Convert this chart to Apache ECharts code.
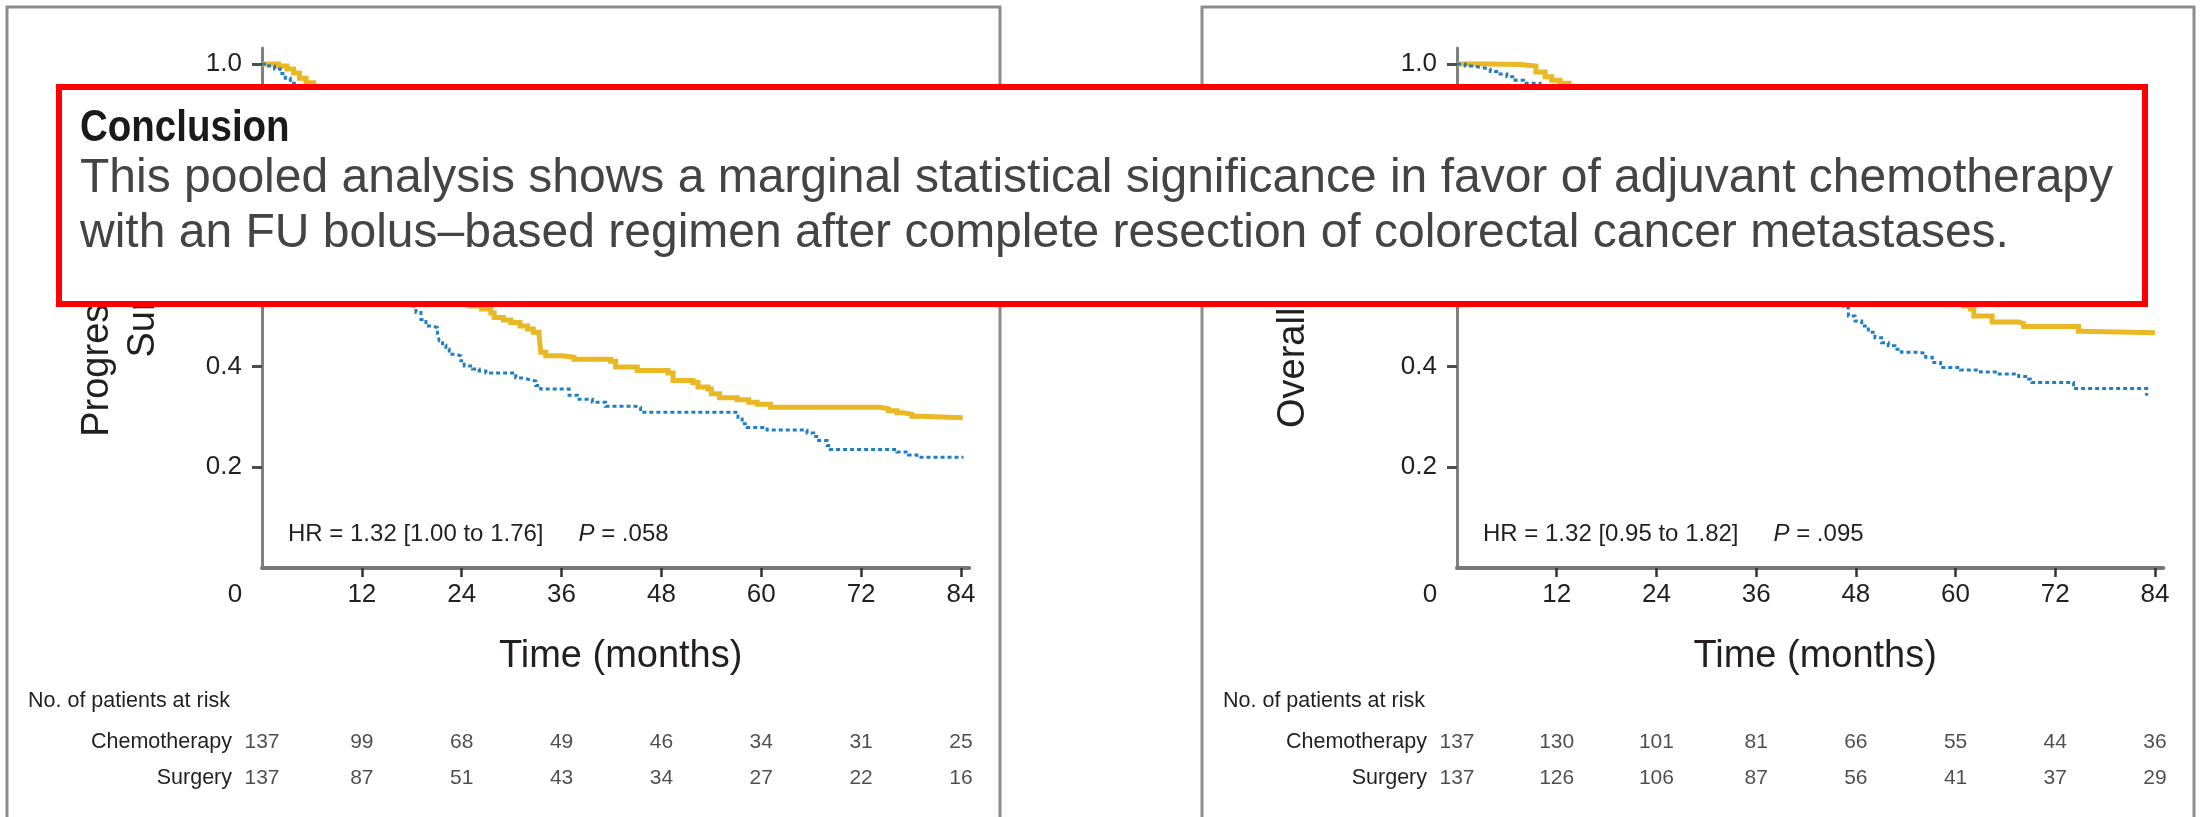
<!DOCTYPE html>
<html><head><meta charset="utf-8">
<script src="https://cdn.jsdelivr.net/npm/echarts@6/dist/echarts.min.js"></script>
<style>html,body{margin:0;padding:0;background:#fff}#c{width:2201px;height:817px}</style>
</head><body><div id="c"></div>
<script>
// ---------- data ----------
const tickMonths = [0, 12, 24, 36, 48, 60, 72, 84];
const yTicks = [0.2, 0.4, 0.6, 0.8, 1.0];
const riskGroups = ['Chemotherapy', 'Surgery'];

// Progression-free survival (left panel), [month, probability]
const pfsChemo = [[0,1.0],[2.0,0.996],[3.0,0.99],[3.8,0.982],[4.5,0.972],[5.3,0.963],
  [6.2,0.945],[7.0,0.925],[8.0,0.9],[9.0,0.87],[10.0,0.84],[11.0,0.81],[12.0,0.78],[13.0,0.75],[14.0,0.72],
  [15.0,0.695],[16.0,0.67],[17.0,0.65],[18.0,0.625],[19.0,0.605],[20.0,0.585],[21.0,0.57],[22.0,0.555],
  [23.0,0.54],[24.0,0.53],[25.0,0.52],[26.4,0.514],[27.5,0.506],[27.9,0.497],[29.0,0.492],[29.9,0.487],
  [31.0,0.48],[31.9,0.474],[32.6,0.468],[33.3,0.462],[33.5,0.428],[34.1,0.421],[36.0,0.418],[37.5,0.414],
  [41.9,0.41],[42.5,0.399],[45.1,0.392],[48.8,0.387],[49.4,0.372],[51.8,0.368],[52.4,0.359],[53.6,0.355],
  [54.0,0.346],[55.0,0.338],[57.1,0.334],[58.5,0.329],[59.5,0.325],[61.1,0.319],[74.3,0.316],[75.3,0.312],
  [76.3,0.308],[77.1,0.305],[78.1,0.301],[79.1,0.298],[84.2,0.298]];
const pfsSurgery = [[0,1.0],[0.8,0.996],[1.5,0.99],[2.2,0.981],[2.8,0.972],[3.4,0.962],
  [4.2,0.945],[5.0,0.925],[6.0,0.9],[7.0,0.87],[8.0,0.835],[9.0,0.8],[10.0,0.765],[11.0,0.73],[12.0,0.695],
  [13.0,0.665],[14.0,0.635],[15.0,0.605],[16.0,0.575],[17.0,0.548],[17.6,0.528],[17.9,0.52],[18.5,0.507],
  [19.1,0.493],[19.7,0.48],[20.5,0.477],[21.1,0.464],[21.3,0.451],[21.7,0.442],[22.1,0.434],[22.5,0.424],
  [23.3,0.421],[23.9,0.411],[24.3,0.401],[25.3,0.395],[26.1,0.391],[26.9,0.387],[30.5,0.377],[31.3,0.374],
  [32.1,0.371],[32.9,0.362],[33.5,0.355],[36.9,0.343],[37.9,0.335],[39.7,0.329],[41.3,0.321],[44.9,0.319],
  [45.5,0.309],[57.2,0.299],[57.7,0.286],[58.3,0.279],[60.7,0.274],[65.5,0.268],[66.3,0.261],[66.9,0.253],
  [67.9,0.243],[68.3,0.235],[76.3,0.23],[77.7,0.224],[78.7,0.22],[84.3,0.22]];

// Overall survival (right panel)
const osChemo = [[0,1.0],[4.0,0.999],[7.6,0.996],[9.5,0.984],[10.6,0.975],[11.4,0.968],[12.4,0.962],
  [13.5,0.95],[15,0.935],[17,0.915],[19,0.89],[21,0.86],[23,0.83],[25,0.8],[27,0.77],[29,0.745],[31,0.72],
  [33,0.7],[35,0.68],[37,0.66],[39,0.645],[41,0.63],[43,0.615],[45,0.6],[47,0.59],[49,0.58],[51,0.57],
  [53,0.56],[55,0.55],[57,0.54],[59,0.53],[61,0.52],[61.8,0.514],[62.2,0.5],[64.4,0.488],[67.6,0.485],
  [68.2,0.479],[74.8,0.47],[75.2,0.467],[84.0,0.467]];
const osSurgery = [[0,1.0],[1,0.996],[2,0.993],[3,0.99],[4,0.985],[5,0.98],[6,0.975],[7,0.968],[8,0.962],
  [10,0.945],[12,0.92],[14,0.895],[16,0.87],[18,0.845],[20,0.82],[22,0.8],[24,0.78],[26,0.76],[28,0.74],
  [30,0.72],[32,0.7],[34,0.68],[36,0.66],[38,0.64],[40,0.615],[42,0.59],[44,0.565],[45.5,0.54],[46.5,0.517],
  [47.1,0.5],[47.9,0.49],[48.7,0.48],[49.5,0.468],[50.3,0.457],[51.1,0.447],[51.9,0.441],[52.7,0.434],
  [53.5,0.428],[55.5,0.426],[56.4,0.418],[57.2,0.408],[58.2,0.398],[60.6,0.393],[63.0,0.389],[65.0,0.385],
  [67.6,0.38],[68.8,0.375],[69.2,0.368],[74.2,0.356],[83.0,0.342]];

// numbers at risk
const pfsRiskChemo = [137, 99, 68, 49, 46, 34, 31, 25];
const pfsRiskSurgery = [137, 87, 51, 43, 34, 27, 22, 16];
const osRiskChemo = [137, 130, 101, 81, 66, 55, 44, 36];
const osRiskSurgery = [137, 126, 106, 87, 56, 41, 37, 29];

// texts
const pfsTitle = 'Progression-Free\nSurvival';
const osTitle = 'Overall Survival';
const pfsHR = 'HR = 1.32 [1.00 to 1.76]', pfsP = '= .058';
const osHR = 'HR = 1.32 [0.95 to 1.82]', osP = '= .095';
const xTitle = 'Time (months)';
const riskTitle = 'No. of patients at risk';
const conclusionHead = 'Conclusion';
const conclusionBody = 'This pooled analysis shows a marginal statistical significance in favor of adjuvant chemotherapy\nwith an FU bolus\u2013based regimen after complete resection of colorectal cancer metastases.';

// ---------- styles ----------
const FONT = '"Liberation Sans", Arial, sans-serif';
const INK = '#231f20';
const GOLD = '#e9b824';
const BLUE = '#1f7fc4';

const panels = [
  {left: 262, width: 707.3},
  {left: 1457, width: 706.3}
];

const grids = [];
const xAxes = [];
const yAxes = [];
panels.forEach((p, i) => {
  grids.push({left: p.left, top: 47.9, width: p.width, height: 520.1, containLabel: false, outerBoundsMode: 'none'});
  xAxes.push({
    type: 'value', gridIndex: i, min: 0, max: 85,
    axisLine: {show: true, onZero: false, lineStyle: {color: '#777', width: 4}},
    axisTick: {show: true, customValues: tickMonths.slice(1), length: 9, lineStyle: {color: '#333', width: 2.5}},
    axisLabel: {show: true, customValues: tickMonths, margin: 14, fontSize: 26, fontFamily: FONT, color: INK,
      formatter: v => v === 0 ? '{o|0}' : String(v),
      rich: {o: {padding: [0, 54, 0, 0], fontSize: 26, fontFamily: FONT, color: INK}}},
    splitLine: {show: false},
    name: xTitle, nameLocation: 'middle', nameGap: 70,
    nameTextStyle: {fontSize: 38, fontFamily: FONT, color: INK, padding: [0, 0, 0, 10]}
  });
  yAxes.push({
    type: 'value', gridIndex: i, min: 0, max: 1.032,
    axisLine: {show: true, onZero: false, lineStyle: {color: '#808080', width: 3}},
    axisTick: {show: true, customValues: yTicks, length: 10, lineStyle: {color: '#4d4d4d', width: 3}},
    axisLabel: {show: true, customValues: yTicks, formatter: v => v.toFixed(1), margin: 20,
      fontSize: 26, fontFamily: FONT, color: INK},
    splitLine: {show: false}
  });
});
// risk-table grids share the time scale of the panels above
panels.forEach((p, i) => {
  grids.push({left: p.left, top: 724.5, width: p.width, height: 71, containLabel: false, outerBoundsMode: 'none'});
  xAxes.push({type: 'value', gridIndex: 2 + i, min: 0, max: 85, show: false});
  yAxes.push({type: 'category', gridIndex: 2 + i, data: riskGroups, inverse: true,
    axisLine: {show: false}, axisTick: {show: false}, splitLine: {show: false},
    axisLabel: {margin: 30, fontSize: 21.5, fontFamily: FONT, color: INK}});
});

function km(gi, data, color, width, type, z) {
  return {type: 'line', xAxisIndex: gi, yAxisIndex: gi, data, step: 'end', showSymbol: false, symbol: 'none',
    silent: true, animation: false, z,
    lineStyle: {color, width, type, cap: 'butt', join: 'miter'}};
}
function risk(gi, chemo, surg) {
  const data = [];
  tickMonths.forEach((m, k) => {
    data.push([m, riskGroups[0], chemo[k]]);
    data.push([m, riskGroups[1], surg[k]]);
  });
  return {type: 'scatter', xAxisIndex: gi, yAxisIndex: gi, symbolSize: 0, data, silent: true, animation: false,
    encode: {x: 0, y: 1},
    label: {show: true, position: 'inside', formatter: p => String(p.value[2]),
      fontSize: 21, fontFamily: FONT, color: INK}};
}

function hrText(x, hr, p) {
  return {type: 'text', x, y: 534, silent: true,
    style: {text: '{n|' + hr + '}{i|P}{n| ' + p + '}', verticalAlign: 'middle', align: 'left',
      rich: {n: {fontSize: 24, fontFamily: FONT, fill: INK, color: INK},
             i: {fontSize: 24, fontFamily: FONT, fontStyle: 'italic', fill: INK, color: INK, padding: [0, 0, 0, 35]}}}};
}

const graphics = [
  {type: 'rect', shape: {x: 7, y: 7, width: 993, height: 900}, style: {fill: 'none', stroke: '#8c8c8c', lineWidth: 3}, silent: true},
  {type: 'rect', shape: {x: 1202, y: 7, width: 992, height: 900}, style: {fill: 'none', stroke: '#8c8c8c', lineWidth: 3}, silent: true},
  {type: 'text', x: 120.5, y: 290, rotation: Math.PI / 2, silent: true,
    style: {text: pfsTitle, align: 'center', verticalAlign: 'middle', lineHeight: 46, fontSize: 38, fontFamily: FONT, fill: INK}},
  {type: 'text', x: 1294, y: 295, rotation: Math.PI / 2, silent: true,
    style: {text: osTitle, align: 'center', verticalAlign: 'middle', fontSize: 38, fontFamily: FONT, fill: INK}},
  hrText(288, pfsHR, pfsP),
  hrText(1483, osHR, osP),
  {type: 'text', x: 28, y: 701, silent: true,
    style: {text: riskTitle, align: 'left', verticalAlign: 'middle', fontSize: 21.5, fontFamily: FONT, fill: INK}},
  {type: 'text', x: 1223, y: 701, silent: true,
    style: {text: riskTitle, align: 'left', verticalAlign: 'middle', fontSize: 21.5, fontFamily: FONT, fill: INK}},
  // overlay call-out
  {type: 'rect', z: 100, shape: {x: 59, y: 87, width: 2086, height: 217},
    style: {fill: '#ffffff', stroke: '#ff0000', lineWidth: 6}, silent: true},
  {type: 'text', z: 101, x: 80, y: 129, scaleX: 0.875, silent: true,
    style: {text: conclusionHead, align: 'left', verticalAlign: 'middle', fontSize: 44, fontWeight: 'bold', fontFamily: FONT, fill: '#1a1a1a'}},
  {type: 'text', z: 101, x: 80, y: 206, silent: true,
    style: {text: conclusionBody, align: 'left', verticalAlign: 'middle', lineHeight: 55, fontSize: 48, fontFamily: FONT, fill: '#444444'}}
];

const chart = echarts.init(document.getElementById('c'), null, {renderer: 'canvas'});
chart.setOption({
  animation: false,
  backgroundColor: '#ffffff',
  grid: grids, xAxis: xAxes, yAxis: yAxes,
  series: [
    km(0, pfsChemo, GOLD, 5, 'solid', 3),
    km(0, pfsSurgery, BLUE, 3, [4, 3], 4),
    km(1, osChemo, GOLD, 5, 'solid', 3),
    km(1, osSurgery, BLUE, 3, [4, 3], 4),
    risk(2, pfsRiskChemo, pfsRiskSurgery),
    risk(3, osRiskChemo, osRiskSurgery)
  ],
  graphic: graphics
});
</script></body></html>
